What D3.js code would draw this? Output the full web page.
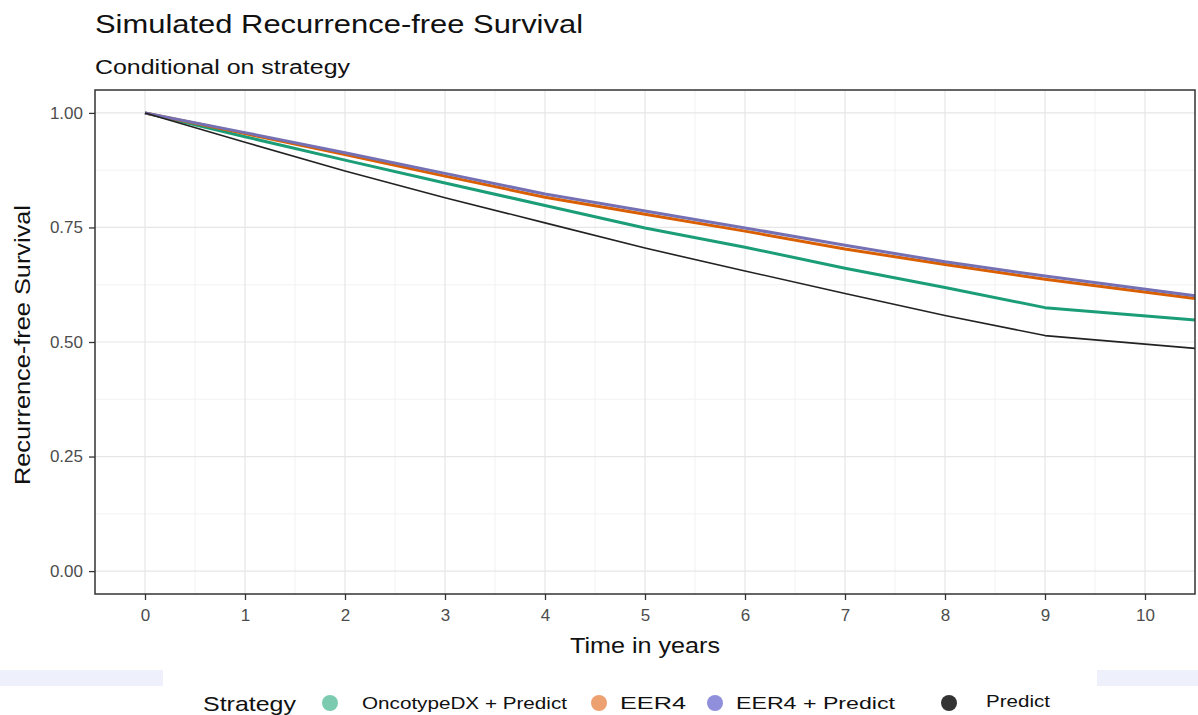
<!DOCTYPE html>
<html>
<head>
<meta charset="utf-8">
<script src="https://cdn.jsdelivr.net/npm/d3@7"></script>
<style>
  body { margin: 0; background: #fff; }
  svg { display: block; font-family: "Liberation Sans", Arial, sans-serif; }
</style>
</head>
<body>
<div id="chart"></div>
<script>
// data
var years = [0, 1, 2, 3, 4, 5, 6, 7, 8, 9, 10.5];
var oncotypePredict = [1, 0.948, 0.897, 0.847, 0.798, 0.749, 0.707, 0.661, 0.619, 0.575, 0.548];
var eer4 = [1, 0.955, 0.909, 0.862, 0.816, 0.779, 0.742, 0.703, 0.669, 0.637, 0.595];
var eer4Predict = [1, 0.957, 0.913, 0.868, 0.823, 0.786, 0.749, 0.711, 0.675, 0.644, 0.601];
var predict = [1, 0.936, 0.873, 0.815, 0.760, 0.705, 0.655, 0.606, 0.558, 0.514, 0.486];

var xTicks = [0, 1, 2, 3, 4, 5, 6, 7, 8, 9, 10];
var yTicks = [0, 0.25, 0.5, 0.75, 1];
var yTickLabels = ["0.00", "0.25", "0.50", "0.75", "1.00"];

var seriesNames = ["OncotypeDX + Predict", "EER4", "EER4 + Predict", "Predict"];

var series = [
    { name: seriesNames[0], values: oncotypePredict, color: "#1b9e77", key: "#7ccbb0", w: 3 },
    { name: seriesNames[1], values: eer4, color: "#d95f02", key: "#eda070", w: 3 },
    { name: seriesNames[2], values: eer4Predict, color: "#7570b3", key: "#8f8fdc", w: 3 },
    { name: seriesNames[3], values: predict, color: "#222", key: "#333", w: 1.6 }
];

var width = 1198, height = 715;
var pLeft = 95, pRight = 1195, pTop = 90, pBottom = 594;

var svg = d3.select("#chart").append("svg")
    .attr("width", width)
    .attr("height", height);

var x = d3.scaleLinear().domain([-0.5, 10.5]).range([pLeft, pRight]);
var y = d3.scaleLinear().domain([-0.05, 1.05]).range([pBottom, pTop]);

// minor grid
var xMinor = [0.5, 1.5, 2.5, 3.5, 4.5, 5.5, 6.5, 7.5, 8.5, 9.5];
var yMinor = [0.125, 0.375, 0.625, 0.875];

svg.append("g").selectAll("line")
    .data(xMinor)
    .enter().append("line")
    .attr("x1", d => x(d)).attr("x2", d => x(d))
    .attr("y1", pTop).attr("y2", pBottom)
    .style("stroke", "#f2f2f2").style("stroke-width", 1);

svg.append("g").selectAll("line")
    .data(yMinor)
    .enter().append("line")
    .attr("x1", pLeft).attr("x2", pRight)
    .attr("y1", d => y(d)).attr("y2", d => y(d))
    .style("stroke", "#f2f2f2").style("stroke-width", 1);

// major grid
svg.append("g").selectAll("line")
    .data(xTicks)
    .enter().append("line")
    .attr("x1", d => x(d)).attr("x2", d => x(d))
    .attr("y1", pTop).attr("y2", pBottom)
    .style("stroke", "#e6e6e6").style("stroke-width", 1.2);

svg.append("g").selectAll("line")
    .data(yTicks)
    .enter().append("line")
    .attr("x1", pLeft).attr("x2", pRight)
    .attr("y1", d => y(d)).attr("y2", d => y(d))
    .style("stroke", "#e6e6e6").style("stroke-width", 1.2);

// lines
var line = d3.line()
    .x((d, i) => x(years[i]))
    .y(d => y(d));

series.forEach(s => {
    svg.append("path")
        .datum(s.values)
        .attr("d", line)
        .style("fill", "none")
        .style("stroke", s.color)
        .style("stroke-width", s.w)
        .style("stroke-linejoin", "round");
});

// panel border
svg.append("rect")
    .attr("x", pLeft).attr("y", pTop)
    .attr("width", pRight - pLeft).attr("height", pBottom - pTop)
    .style("fill", "none").style("stroke", "#333").style("stroke-width", 1.5);

// axes
var xAxis = svg.append("g")
    .attr("transform", "translate(0," + pBottom + ")")
    .call(d3.axisBottom(x).tickValues(xTicks).tickSize(6).tickPadding(9));
var yAxis = svg.append("g")
    .attr("transform", "translate(" + pLeft + ",0)")
    .call(d3.axisLeft(y).tickValues(yTicks).tickFormat((d, i) => yTickLabels[i]).tickSize(6).tickPadding(6));

[xAxis, yAxis].forEach(a => {
    a.select(".domain").remove();
    a.selectAll(".tick line").style("stroke", "#333").style("stroke-width", 1.3);
    a.selectAll(".tick text")
        .style("fill", "#4d4d4d")
        .style("font-family", "'Liberation Sans', Arial, sans-serif")
        .style("font-size", "17px");
});

// titles
svg.append("text")
    .attr("x", 95).attr("y", 33)
    .attr("textLength", 488).attr("lengthAdjust", "spacingAndGlyphs")
    .style("font-size", "25px").style("fill", "#111")
    .text("Simulated Recurrence-free Survival");

svg.append("text")
    .attr("x", 95).attr("y", 74)
    .attr("textLength", 255).attr("lengthAdjust", "spacingAndGlyphs")
    .style("font-size", "20px").style("fill", "#111")
    .text("Conditional on strategy");

svg.append("text")
    .attr("x", 570).attr("y", 653)
    .attr("textLength", 150).attr("lengthAdjust", "spacingAndGlyphs")
    .style("font-size", "22px").style("fill", "#111")
    .text("Time in years");

svg.append("text")
    .attr("transform", "translate(30,485) rotate(-90)")
    .attr("textLength", 280).attr("lengthAdjust", "spacingAndGlyphs")
    .style("font-size", "22px").style("fill", "#111")
    .text("Recurrence-free Survival");

// light strips at bottom
svg.append("rect").attr("x", 0).attr("y", 670).attr("width", 163).attr("height", 16).style("fill", "#eef0fc");
svg.append("rect").attr("x", 1097).attr("y", 670).attr("width", 101).attr("height", 16).style("fill", "#eef0fc");

// legend
var legendPos = [
    { cx: 330, tx: 362, tw: 205 },
    { cx: 599, tx: 620, tw: 66 },
    { cx: 715, tx: 736, tw: 159 },
    { cx: 949, tx: 986, tw: 64 }
];

svg.append("text")
    .attr("x", 203).attr("y", 711)
    .attr("textLength", 93).attr("lengthAdjust", "spacingAndGlyphs")
    .style("font-size", "21px").style("fill", "#111")
    .text("Strategy");

var legend = svg.append("g").selectAll("g")
    .data(series)
    .enter().append("g");

legend.append("circle")
    .attr("cx", (d, i) => legendPos[i].cx)
    .attr("cy", 703)
    .attr("r", 8)
    .style("fill", d => d.key);

legend.append("text")
    .attr("x", (d, i) => legendPos[i].tx)
    .attr("y", (d, i) => i == 3 ? 707 : 709)
    .attr("textLength", (d, i) => legendPos[i].tw)
    .attr("lengthAdjust", "spacingAndGlyphs")
    .style("font-size", "17px").style("fill", "#111")
    .text(d => d.name);
</script>
</body>
</html>
